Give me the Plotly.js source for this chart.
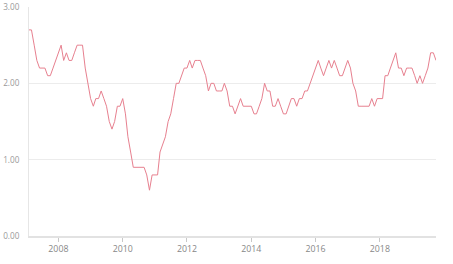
<!DOCTYPE html>
<html>
<head>
<meta charset="utf-8">
<script src="https://cdn.plot.ly/plotly-3.0.1.min.js"></script>
<style>
html,body{margin:0;padding:0;background:#fff;}
#chart{width:453px;height:264px;}
</style>
</head>
<body>
<div id="chart"></div>
<script>
// Monthly values starting Feb 2007
var startYear = 2007, startMonth = 2;
var values = [
2.7,2.7,2.5,2.3,2.2,2.2,2.2,2.1,2.1,2.2,2.3,2.4,
2.5,2.3,2.4,2.3,2.3,2.4,2.5,2.5,2.5,2.2,2.0,1.8,
1.7,1.8,1.8,1.9,1.8,1.7,1.5,1.4,1.5,1.7,1.7,1.8,
1.6,1.3,1.1,0.9,0.9,0.9,0.9,0.9,0.8,0.6,0.8,0.8,
0.8,1.1,1.2,1.3,1.5,1.6,1.8,2.0,2.0,2.1,2.2,2.2,
2.3,2.2,2.3,2.3,2.3,2.2,2.1,1.9,2.0,2.0,1.9,1.9,
1.9,2.0,1.9,1.7,1.7,1.6,1.7,1.8,1.7,1.7,1.7,1.7,
1.6,1.6,1.7,1.8,2.0,1.9,1.9,1.7,1.7,1.8,1.7,1.6,
1.6,1.7,1.8,1.8,1.7,1.8,1.8,1.9,1.9,2.0,2.1,2.2,
2.3,2.2,2.1,2.2,2.3,2.2,2.3,2.2,2.1,2.1,2.2,2.3,
2.2,2.0,1.9,1.7,1.7,1.7,1.7,1.7,1.8,1.7,1.8,1.8,
1.8,2.1,2.1,2.2,2.3,2.4,2.2,2.2,2.1,2.2,2.2,2.2,
2.1,2.0,2.1,2.0,2.1,2.2,2.4,2.4,2.3
];
var yTicks = [0, 1, 2, 3];
var yTickLabels = ["0.00", "1.00", "2.00", "3.00"];

var dates = values.map(function(v, i){
  var m = startMonth - 1 + i;
  var y = startYear + Math.floor(m / 12);
  var mm = (m % 12) + 1;
  return y + "-" + (mm < 10 ? "0" + mm : mm) + "-01";
});

var trace = {
  x: dates, y: values, type: "scatter", mode: "lines",
  line: {color: "#e7808f", width: 1},
  hoverinfo: "skip"
};

var layout = {
  width: 453, height: 264,
  margin: {l: 29, r: 16.5, t: 7, b: 27.5},
  paper_bgcolor: "#fff", plot_bgcolor: "#fff",
  showlegend: false,
  font: {family: "Open Sans, sans-serif", color: "#888"},
  xaxis: {
    type: "date",
    range: [dates[0], dates[dates.length - 1]],
    tick0: "2008-01-01", dtick: "M24", tickformat: "%Y",
    showgrid: false, zeroline: false,
    showline: true, linecolor: "#e2e2e2", linewidth: 1.5,
    ticks: "outside", ticklen: 4, tickcolor: "#c8c8c8", tickwidth: 1,
    tickfont: {size: 8.8, color: "#888"}
  },
  yaxis: {
    range: [0, 3],
    tickvals: yTicks, ticktext: yTickLabels,
    showgrid: true, gridcolor: "#ececec", gridwidth: 1,
    zeroline: false,
    showline: true, linecolor: "#e6e6e6", linewidth: 1,
    ticks: "", ticklabelstandoff: 7,
    tickfont: {size: 8.2, color: "#999"}
  }
};

Plotly.newPlot("chart", [trace], layout, {displayModeBar: false, staticPlot: true});
</script>
</body>
</html>
